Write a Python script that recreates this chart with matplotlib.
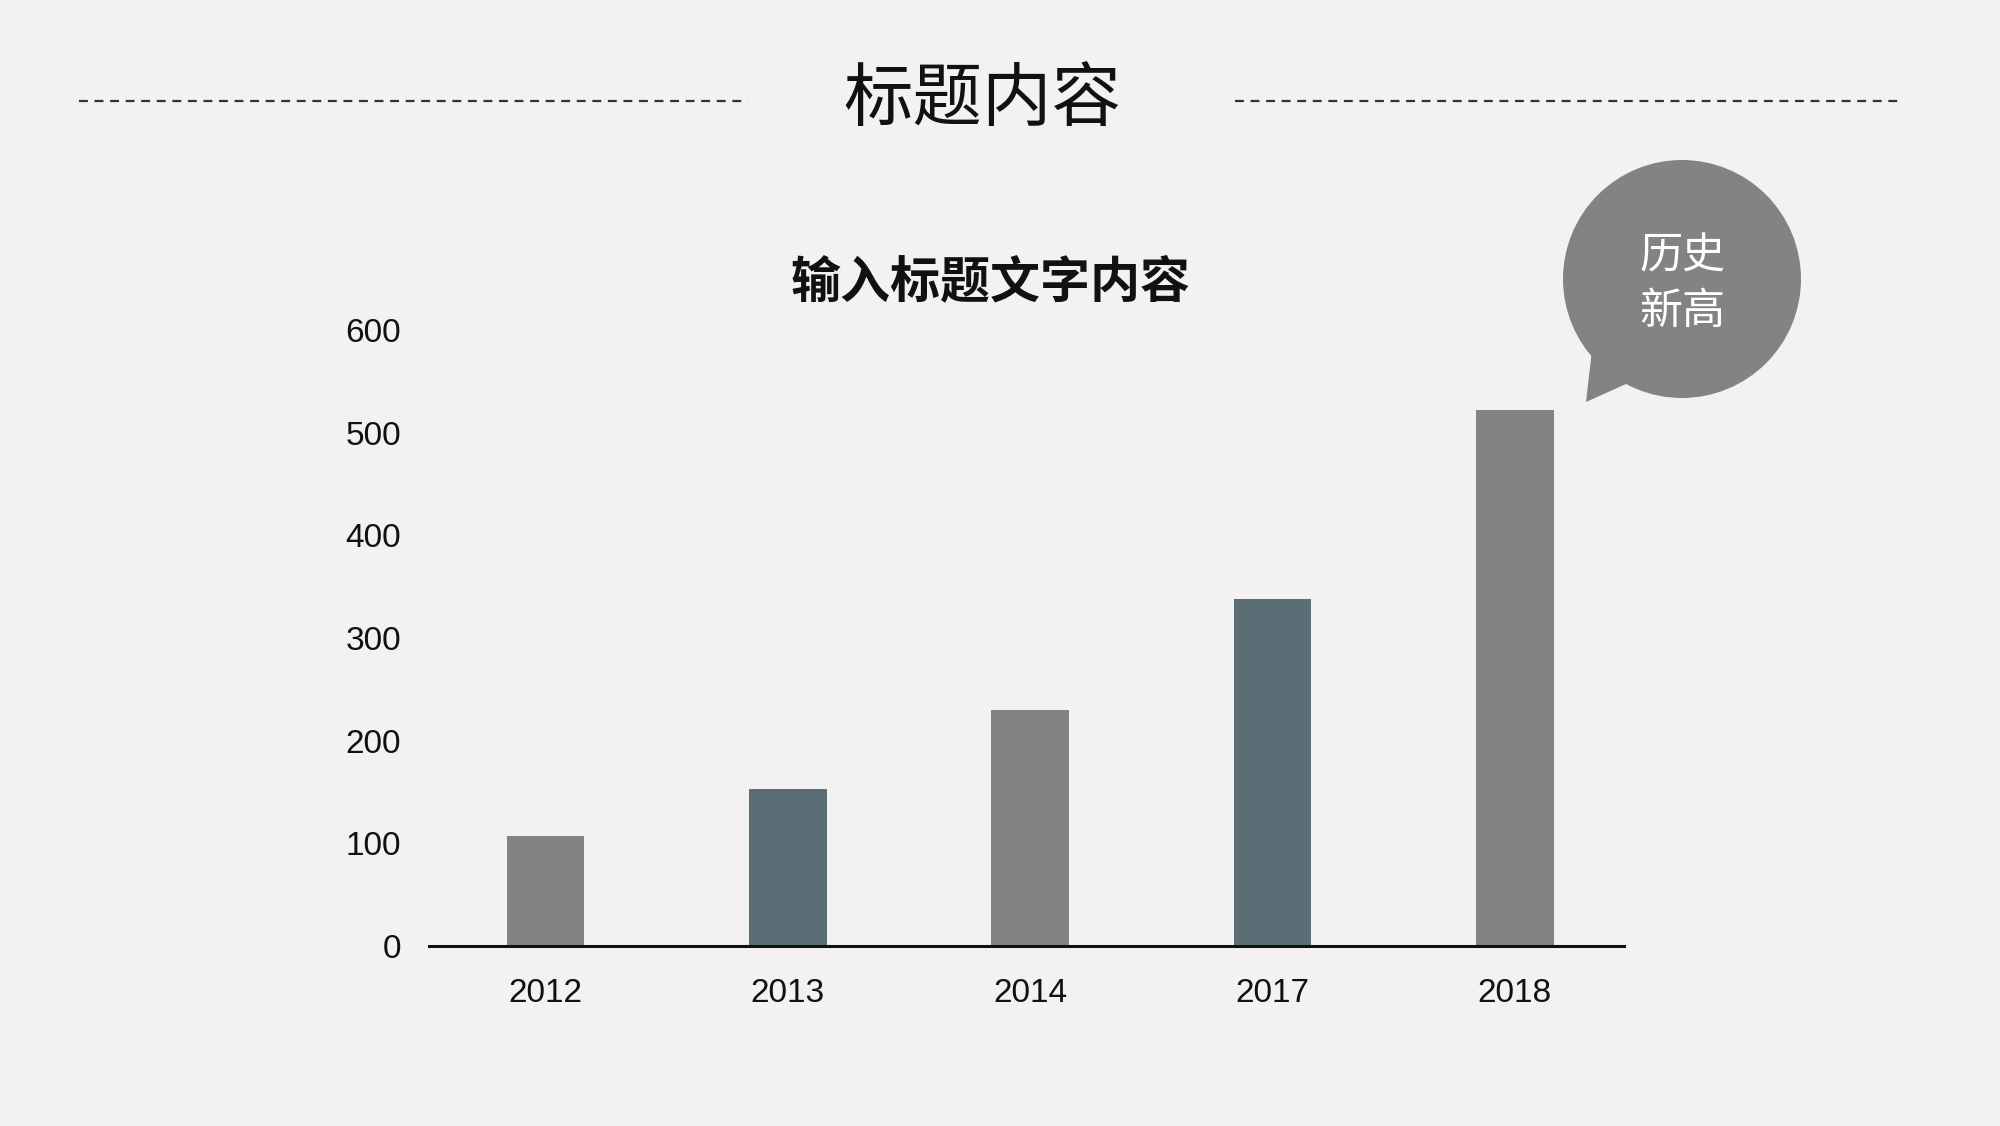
import matplotlib
matplotlib.use('Agg')
import matplotlib.pyplot as plt
from matplotlib.patches import Circle, Polygon

plt.rcParams['font.family'] = ['Liberation Sans', 'Noto Sans CJK SC', 'DejaVu Sans']

#%% data
years = ['2012', '2013', '2014', '2017', '2018']
values = [107, 153, 230, 338, 522]
bar_colors = ['#848382', '#5b6d75', '#848382', '#5b6d75', '#848382']
y_ticks = [0, 100, 200, 300, 400, 500, 600]

bg = '#f3f1f1'
W, H = 2000, 1126

fig = plt.figure(figsize=(20, 11.26), dpi=100, facecolor=bg)

#%% header: title with dashed lines either side
fig.text(982 / W, 1 - 100 / H, '标题内容', ha='center', va='center',
         fontsize=50, family=['Noto Sans CJK SC'], color='#111111')
for x0, x1 in [(79, 748), (1235, 1903)]:
    fig.add_artist(plt.Line2D([x0 / W, x1 / W], [1 - 101 / H, 1 - 101 / H],
                              transform=fig.transFigure, color='#333333',
                              lw=1.6, linestyle=(0, (4, 3))))

#%% chart
ax = fig.add_axes([429 / W, 180 / H, (1624 - 429) / W, (946 - 330) / H])
ax.set_facecolor(bg)
ax.bar(range(len(years)), values, width=0.32, color=bar_colors, zorder=2)
ax.set_xlim(-0.48, 4.45)
ax.set_ylim(0, 600)
ax.set_yticks(y_ticks)
ax.set_xticks(range(len(years)))
ax.set_xticklabels(years)
ax.tick_params(axis='both', length=0, labelsize=24, colors='#111111')
ax.tick_params(axis='y', pad=20)
ax.tick_params(axis='x', pad=23)
for s in ['top', 'right', 'left']:
    ax.spines[s].set_visible(False)
ax.spines['bottom'].set_linewidth(2.2)
ax.spines['bottom'].set_color('#111111')

fig.text(991 / W, 1 - 283 / H, '输入标题文字内容', ha='center', va='center',
         fontsize=36, fontweight='bold', family=['Noto Sans CJK SC'], color='#111111')

#%% speech bubble
px = lambda x, y: (x / W, 1 - y / H)
bubble_col = '#848382'
fig.add_artist(Polygon([px(1592, 350), px(1586, 402), px(1635, 380)],
                       closed=True, transform=fig.transFigure,
                       facecolor=bubble_col, edgecolor='none'))
fig.add_artist(Circle((1682, H - 279), 119, transform=None,
                      facecolor=bubble_col, edgecolor='none'))
fig.text(1682 / W, 1 - 284 / H, '历史\n新高', ha='center', va='center',
         fontsize=31, family=['Noto Sans CJK SC'], color='white',
         linespacing=1.35)

fig.savefig('out.png', dpi=100, facecolor=bg)
